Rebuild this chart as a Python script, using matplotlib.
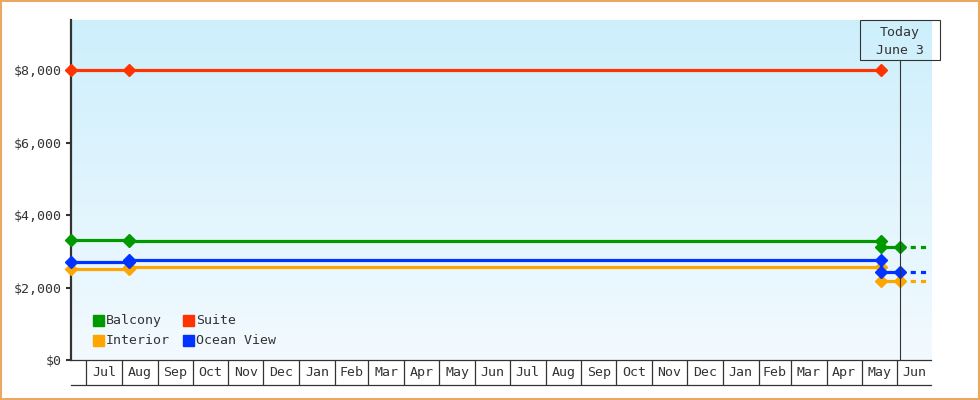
import datetime as dt
import numpy as np
import matplotlib
matplotlib.use("Agg")
import matplotlib.pyplot as plt
import matplotlib.dates as mdates
from matplotlib.colors import LinearSegmentedColormap
from matplotlib.patches import Rectangle

# price history per cabin type
dates = ["2023-06-18", "2023-08-07", "2023-08-07", "2025-05-18", "2025-05-18", "2025-06-03"]
balcony = [3320, 3320, 3285, 3285, 3120, 3120]
interior = [2525, 2525, 2565, 2565, 2190, 2190]
ocean_view = [2720, 2720, 2765, 2765, 2430, 2430]
suite_dates = ["2023-06-18", "2023-08-07", "2025-05-18"]
suite = [8000, 8000, 8000]

series = ["Balcony", "Suite", "Interior", "Ocean View"]
colors = {"Balcony": "#009900", "Suite": "#ff3300", "Interior": "#ffa500", "Ocean View": "#0033ff"}

month_labels = ["Jul", "Aug", "Sep", "Oct", "Nov", "Dec", "Jan", "Feb", "Mar", "Apr", "May", "Jun",
                "Jul", "Aug", "Sep", "Oct", "Nov", "Dec", "Jan", "Feb", "Mar", "Apr", "May", "Jun"]
yticks = [0, 2000, 4000, 6000, 8000]

start = dt.date(2023, 6, 18)
end = dt.date(2025, 6, 30)
today = dt.date(2025, 6, 3)

ink = "#333333"
plt.rcParams["font.family"] = ["DejaVu Sans Mono"]

W, H = 980, 400
fig = plt.figure(figsize=(W / 100, H / 100), dpi=100)
L, R, T, B = 71, 931, 20, 360.3
ax = fig.add_axes([L / W, 1 - B / H, (R - L) / W, (B - T) / H])

# background gradient
cmap = LinearSegmentedColormap.from_list("bg", ["#f3faff", "#cdeffc"])
grad = np.linspace(0, 1, 256).reshape(-1, 1)
ax.imshow(grad, extent=[0, 1, 0, 1], transform=ax.transAxes, aspect="auto",
          cmap=cmap, origin="lower", zorder=0)

to_num = lambda s: mdates.date2num(dt.date.fromisoformat(s))
x = [to_num(d) for d in dates]
xs = [to_num(d) for d in suite_dates]
x_today = mdates.date2num(today)
x_end = mdates.date2num(end)

lw = 2.3
for name, vals in [("Interior", interior), ("Ocean View", ocean_view), ("Balcony", balcony)]:
    c = colors[name]
    ax.plot([x_today, x_end], [vals[-1], vals[-1]], color=c, lw=lw, dashes=(1.6, 1.6), zorder=3)
    ax.plot(x, vals, color=c, lw=lw, marker="D", ms=6, clip_on=False, zorder=4)
ax.plot(xs, suite, color=colors["Suite"], lw=lw, marker="D", ms=6, clip_on=False, zorder=4)

ax.set_xlim(mdates.date2num(start), x_end)
ax.set_ylim(0, 9390)
ax.set_yticks(yticks)
ax.set_yticklabels([f"${v:,}" for v in yticks], fontsize=9.5, color=ink)
ax.tick_params(axis="y", length=3.6, width=1.5, color=ink, pad=3)
ax.tick_params(axis="x", length=0, labelbottom=False)
for s in ["top", "right", "bottom"]:
    ax.spines[s].set_visible(False)
ax.spines["left"].set_color(ink)
ax.spines["left"].set_linewidth(1.6)

# today marker
ax.axvline(x_today, ymin=0, ymax=(B - 60.3) / (B - T), color=ink, lw=0.8, zorder=5)
xt_fig = fig.transFigure.inverted().transform(ax.transData.transform((x_today, 0)))[0]
fig.patches.append(Rectangle((xt_fig - 40 / W, 1 - 60.3 / H), 80 / W, 40 / H, fill=False,
                             ec=ink, lw=0.8, transform=fig.transFigure))
fig.text(xt_fig, 1 - 32.3 / H, "Today", ha="center", va="center", fontsize=9.5, color=ink)
fig.text(xt_fig, 1 - 50.5 / H, "June 3", ha="center", va="center", fontsize=9.5, color=ink)

# legend
for i, name in enumerate(series):
    col, row = i % 2, i // 2
    px = 93 if col == 0 else 183
    py = 320.7 if row == 0 else 340.7
    ax.add_patch(Rectangle(((px - L) / (R - L), (B - py - 5.5) / (B - T)), 11 / (R - L), 11 / (B - T),
                           transform=ax.transAxes, color=colors[name], zorder=6))
    ax.text((px + 13 - L) / (R - L), (B - py) / (B - T), name, transform=ax.transAxes,
            ha="left", va="center", fontsize=9.5, color=ink, zorder=6)

# month boxes under the plot
mx = fig.add_axes([L / W, 1 - 385.3 / H, (R - L) / W, 25 / H], sharex=ax)
mx.set_ylim(0, 1)
mx.set_yticks([])
mx.tick_params(axis="x", length=0, labelbottom=False)
for s in ["left", "right"]:
    mx.spines[s].set_visible(False)
for s in ["top", "bottom"]:
    mx.spines[s].set_color(ink)
    mx.spines[s].set_linewidth(0.9)
mx.patch.set_alpha(0)

month_starts = []
y0, m0 = 2023, 7
for k in range(len(month_labels) + 1):
    yy, mm = y0 + (m0 - 1 + k) // 12, (m0 - 1 + k) % 12 + 1
    month_starts.append(mdates.date2num(dt.date(yy, mm, 1)))
for k, lab in enumerate(month_labels):
    a = month_starts[k]
    b = min(month_starts[k + 1], x_end)
    mx.axvline(a, color=ink, lw=0.9)
    mx.text((a + b) / 2, 0.5, lab, ha="center", va="center", fontsize=9.5, color=ink)
mx.set_xlim(mdates.date2num(start), x_end)

# outer border
fig.patches.append(Rectangle((0.8 / W, 0.8 / H), 1 - 1.6 / W, 1 - 1.6 / H, fill=False,
                             ec="#eba860", lw=1.5, transform=fig.transFigure))

fig.savefig("out.png", dpi=100)
